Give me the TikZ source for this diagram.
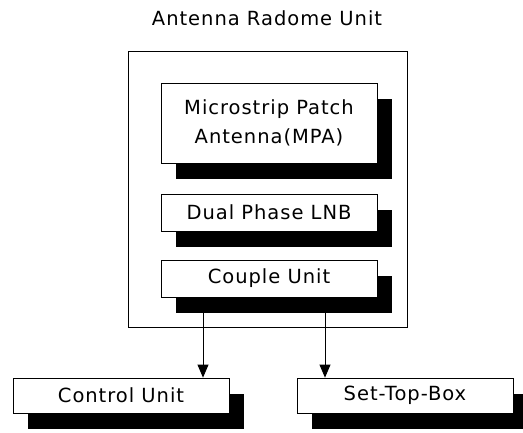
\documentclass[tikz,border=0pt]{standalone}
\usepackage{fontspec}
\setmainfont{DejaVu Sans}[LetterSpace=5]
\usepackage{tikz}
\usetikzlibrary{arrows.meta,shadows,positioning}

\begin{document}
\begin{tikzpicture}[x=1pt,y=-1pt,
  unit/.style={draw, fill=white, line width=0.8pt, minimum width=216pt,
    inner sep=0pt, align=center, font=\fontsize{19.5}{29}\selectfont,
    drop shadow={shadow xshift=15pt, shadow yshift=-16pt, fill=black, opacity=1}},
  link/.style={line width=0.8pt, -{Triangle[length=13pt,width=11pt]}}]
\useasboundingbox (0,0) rectangle (523,432);
\node [draw, line width=0.8pt, minimum width=279pt, minimum height=276pt]
  (radome) at (267.5,189) {};
\node [font=\fontsize{19.5}{22}\selectfont] (title) at (267,18) {Antenna Radome Unit};
\node [unit, minimum height=80pt] (mpa) at (269,123) {Microstrip Patch\\Antenna(MPA)};
\node [unit, minimum height=37pt] (lnb) at (269,212.5) {Dual Phase LNB};
\node [unit, minimum height=37pt] (couple) at (269,278.5) {Couple Unit};
\node [unit, minimum height=35pt] (ctrl) at (121,395.5) {Control Unit};
\node [unit, minimum height=35pt] (stb) at (405,395.5) {Set-Top-Box};
\coordinate (outA) at (203,313);
\coordinate (outB) at (325,313);
\draw [link] (outA) -- (outA |- ctrl.north);
\draw [link] (outB) -- (outB |- stb.north);
\end{tikzpicture}
\end{document}
